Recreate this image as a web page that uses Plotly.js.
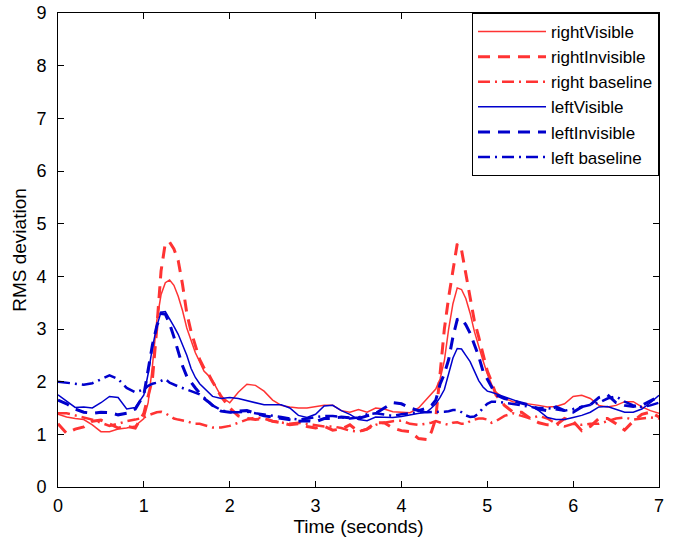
<!DOCTYPE html>
<html>
<head>
<meta charset="utf-8">
<script src="https://cdn.plot.ly/plotly-3.0.1.min.js"></script>
<style>html,body{margin:0;padding:0;background:#fff;}#chart{width:683px;height:541px;}</style>
</head>
<body>
<div id="chart"></div>
<script>
// Time axis (seconds)
var time = [0,0.1,0.2,0.3,0.4,0.5,0.6,0.7,0.8,0.9,1.0,
1.05,1.1,1.15,1.2,1.25,1.3,1.35,1.4,1.45,1.5,1.55,1.6,1.65,1.7,1.75,1.8,
1.9,2.0,2.1,2.2,2.3,2.4,2.5,2.6,2.7,2.8,2.9,3.0,3.1,3.2,3.3,3.4,3.5,3.6,3.7,3.8,3.9,4.0,4.1,4.2,4.3,
4.35,4.4,4.45,4.5,4.55,4.6,4.65,4.7,4.75,4.8,4.85,4.9,4.95,5.0,5.05,5.1,
5.2,5.3,5.4,5.5,5.6,5.7,5.8,5.9,6.0,6.1,6.2,6.3,6.4,6.5,6.6,6.7,6.8,6.9,7.0];

var rightVisible = [1.38,1.33,1.30,1.28,1.18,1.05,1.05,1.10,1.12,1.16,1.30,
1.60,2.30,3.15,3.65,3.88,3.93,3.83,3.62,3.35,3.02,2.78,2.55,2.38,2.20,2.12,2.02,
1.72,1.60,1.80,1.95,1.93,1.82,1.65,1.55,1.52,1.50,1.50,1.52,1.55,1.55,1.45,1.42,1.47,1.42,1.50,1.48,1.43,1.42,1.41,1.50,1.68,
1.76,1.86,2.05,2.40,3.00,3.48,3.78,3.75,3.58,3.30,2.95,2.65,2.40,2.15,1.95,1.80,
1.68,1.62,1.60,1.58,1.55,1.52,1.53,1.58,1.72,1.74,1.68,1.55,1.52,1.55,1.62,1.62,1.52,1.45,1.40];

var rightInvisible = [1.20,1.02,1.10,1.14,1.25,1.27,1.20,1.12,1.15,1.12,1.40,
1.75,2.05,3.00,4.10,4.63,4.65,4.52,4.30,3.85,3.30,2.95,2.70,2.42,2.26,2.15,2.00,
1.72,1.50,1.35,1.30,1.28,1.30,1.25,1.22,1.18,1.20,1.15,1.12,1.15,1.08,1.10,1.18,1.05,1.10,1.22,1.22,1.12,1.07,1.05,0.92,0.90,
1.05,1.30,2.15,3.00,3.60,4.15,4.62,4.50,4.05,3.55,3.15,2.85,2.50,2.20,2.00,1.75,
1.55,1.42,1.42,1.30,1.22,1.18,1.18,1.30,1.25,1.07,1.15,1.30,1.30,1.20,1.08,1.25,1.38,1.42,1.33];

var rightBaseline = [1.40,1.40,1.36,1.32,1.28,1.22,1.16,1.20,1.25,1.28,1.32,
1.36,1.39,1.42,1.43,1.40,1.35,1.30,1.28,1.27,1.25,1.22,1.20,1.20,1.18,1.15,1.13,
1.13,1.16,1.22,1.28,1.32,1.30,1.25,1.22,1.20,1.22,1.20,1.18,1.15,1.15,1.12,1.07,1.05,1.10,1.18,1.22,1.25,1.26,1.20,1.18,1.20,
1.22,1.25,1.22,1.20,1.18,1.22,1.23,1.20,1.20,1.25,1.28,1.30,1.30,1.28,1.22,1.25,
1.35,1.40,1.35,1.30,1.35,1.30,1.20,1.15,1.20,1.18,1.20,1.20,1.25,1.30,1.32,1.28,1.30,1.32,1.30];

var leftVisible = [1.75,1.63,1.51,1.52,1.50,1.60,1.72,1.70,1.48,1.51,1.75,
2.15,2.65,3.05,3.32,3.33,3.20,3.05,2.90,2.70,2.50,2.25,2.08,1.96,1.88,1.80,1.72,
1.68,1.70,1.68,1.64,1.60,1.56,1.56,1.56,1.50,1.36,1.32,1.38,1.54,1.55,1.45,1.38,1.28,1.26,1.33,1.33,1.32,1.34,1.37,1.40,1.43,
1.50,1.58,1.70,1.85,2.15,2.45,2.63,2.62,2.50,2.38,2.20,2.02,1.90,1.82,1.80,1.77,
1.72,1.65,1.60,1.54,1.45,1.32,1.28,1.28,1.32,1.36,1.42,1.52,1.53,1.47,1.42,1.42,1.48,1.60,1.74];

var leftInvisible = [1.65,1.58,1.48,1.42,1.40,1.42,1.41,1.37,1.40,1.48,1.75,
2.20,2.70,3.05,3.30,3.28,3.10,2.85,2.55,2.30,2.10,1.98,1.88,1.78,1.68,1.62,1.55,
1.44,1.42,1.44,1.45,1.40,1.35,1.33,1.30,1.27,1.25,1.26,1.24,1.30,1.30,1.33,1.32,1.30,1.35,1.40,1.50,1.60,1.58,1.50,1.45,1.50,
1.55,1.65,1.95,2.15,2.42,2.85,3.18,3.20,3.08,2.92,2.70,2.48,2.20,2.05,1.90,1.75,
1.68,1.64,1.60,1.55,1.48,1.45,1.52,1.45,1.42,1.52,1.56,1.70,1.75,1.60,1.55,1.53,1.55,1.64,1.72];

var leftBaseline = [2.00,1.98,1.95,1.94,1.97,2.05,2.12,2.05,1.88,1.80,1.85,
1.92,1.96,1.98,2.02,2.05,1.98,1.94,1.91,1.88,1.85,1.82,1.80,1.76,1.70,1.62,1.55,
1.46,1.42,1.42,1.43,1.40,1.38,1.36,1.33,1.30,1.28,1.30,1.32,1.35,1.35,1.32,1.30,1.32,1.38,1.40,1.38,1.35,1.38,1.40,1.42,1.42,
1.42,1.42,1.42,1.43,1.44,1.46,1.46,1.42,1.36,1.33,1.34,1.40,1.50,1.58,1.62,1.62,
1.60,1.58,1.55,1.52,1.50,1.50,1.48,1.45,1.48,1.52,1.55,1.60,1.68,1.72,1.62,1.55,1.52,1.55,1.60];

var seriesNames = ["rightVisible","rightInvisible","right baseline","leftVisible","leftInvisible","left baseline"];
var tickValsX = [0,1,2,3,4,5,6,7];
var tickValsY = [0,1,2,3,4,5,6,7,8,9];

var RED = "#ff3333", BLUE = "#0000cc";
var DASH = "12px,8px", DASHDOT = "12px,5px,2px,5px";
var ys = [rightVisible, rightInvisible, rightBaseline, leftVisible, leftInvisible, leftBaseline];
var styles = [
  {color: RED, width: 1.5, dash: "solid"},
  {color: RED, width: 3, dash: DASH},
  {color: RED, width: 2.5, dash: DASHDOT},
  {color: BLUE, width: 1.5, dash: "solid"},
  {color: BLUE, width: 3, dash: DASH},
  {color: BLUE, width: 2.5, dash: DASHDOT}
];
var traces = ys.map(function(y, i){
  return {x: time, y: y, type: "scatter", mode: "lines", name: seriesNames[i], line: styles[i]};
});

var axisCommon = {
  showline: true, linecolor: "#000", linewidth: 1, mirror: "ticks",
  ticks: "inside", ticklen: 6, tickcolor: "#000", tickwidth: 1,
  showgrid: false, zeroline: false,
  tickfont: {family: "Liberation Sans, Arial, sans-serif", size: 18, color: "#000"}
};

var layout = {
  width: 683, height: 541,
  margin: {l: 58, r: 24, t: 13, b: 54},
  paper_bgcolor: "#fff", plot_bgcolor: "#fff",
  font: {family: "Liberation Sans, Arial, sans-serif", color: "#000"},
  showlegend: true,
  xaxis: Object.assign({}, axisCommon, {
    range: [0, 7], tickvals: tickValsX, ticklabelstandoff: 2,
    title: {text: "Time (seconds)", font: {size: 19}, standoff: 4}
  }),
  yaxis: Object.assign({}, axisCommon, {
    range: [0, 9], tickvals: tickValsY, ticklabelstandoff: 7,
    title: {text: "RMS deviation", font: {size: 19}, standoff: 4}
  }),
  legend: {
    x: 1, xanchor: "right", y: 1, yanchor: "top",
    bgcolor: "#fff", bordercolor: "#000", borderwidth: 1,
    font: {size: 17, family: "Liberation Sans, Arial, sans-serif", color: "#000"},
    traceorder: "normal", itemwidth: 68
  }
};

Plotly.newPlot("chart", traces, layout, {displayModeBar: false, staticPlot: true});
</script>
</body>
</html>
